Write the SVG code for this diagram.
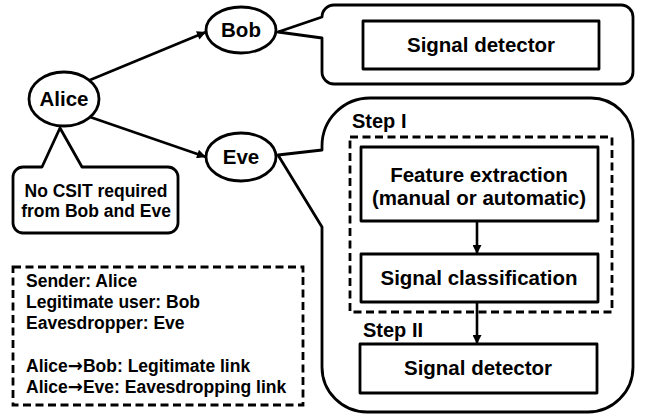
<svg xmlns="http://www.w3.org/2000/svg" width="646" height="420" viewBox="0 0 646 420">
<style>
.s{fill:none;stroke:#000;stroke-width:2.8;stroke-linejoin:round}
.w{fill:#fff;stroke:#000;stroke-width:2.8;stroke-linejoin:round}
.d{fill:none;stroke:#000;stroke-width:2.8;stroke-dasharray:8 4.5}
.t{font-family:"Liberation Sans",Arial,sans-serif;font-weight:bold;fill:#000}
.n{font-size:20.5px;text-anchor:middle}
.m{font-size:17.5px}
.c{text-anchor:middle}
.a{font-family:"DejaVu Sans",sans-serif;font-size:18px}
.l{fill:none;stroke:#000;stroke-width:2.6}
</style>
<defs>
<marker id="ah" viewBox="0 0 10 10" refX="10" refY="5" markerWidth="10" markerHeight="9" markerUnits="userSpaceOnUse" orient="auto">
<path d="M0,0 L10,5 L0,10 Z" fill="#000"/>
</marker>
</defs>
<rect width="646" height="420" fill="#fff"/>

<g id="bob-callout">
<path class="w" d="M322 38 L322 72 A12 12 0 0 0 334 84 L621 84 A12 12 0 0 0 633 72 L633 17 A12 12 0 0 0 621 5 L334 5 A12 12 0 0 0 322 17 L278 32 Z"/>
</g>
<g id="eve-callout">
<path class="w" d="M322 227 L322 367 A45 45 0 0 0 367 412 L588 412 A45 45 0 0 0 633 367 L633 140 A42 42 0 0 0 591 98 L370 98 A48 48 0 0 0 322 146 L322 150 L278 155 Z"/>
</g>
<g id="alice-callout">
<path class="w" d="M42 167 L60 128 L82 167 L168 167 A10 10 0 0 1 178 177 L178 223 A10 10 0 0 1 168 233 L23 233 A10 10 0 0 1 13 223 L13 177 A10 10 0 0 1 23 167 Z"/>
<text class="t m c" x="96" y="197">No CSIT required</text>
<text class="t m c" x="96" y="217">from Bob and Eve</text>
</g>

<g id="alice">
<ellipse class="w" cx="64" cy="99" rx="35" ry="27"/>
<text class="t n" x="64" y="106">Alice</text>
</g>
<g id="bob">
<ellipse class="w" cx="241" cy="30" rx="35" ry="23"/>
<text class="t n" x="241" y="37">Bob</text>
</g>
<g id="eve">
<ellipse class="w" cx="241" cy="157" rx="35" ry="24"/>
<text class="t n" x="241" y="164">Eve</text>
</g>

<g id="bob-detector">
<rect class="s" x="363" y="21" width="236" height="48"/>
<text class="t n" x="481" y="52">Signal detector</text>
</g>

<g id="step1">
<rect class="d" x="350" y="137" width="262" height="175"/>
<text class="t" x="352" y="128" font-size="20">Step I</text>
</g>
<g id="feature">
<rect class="s" x="361" y="147" width="237" height="74"/>
<text class="t n" x="479" y="182">Feature extraction</text>
<text class="t n" x="479" y="205">(manual or automatic)</text>
</g>
<g id="classification">
<rect class="s" x="361" y="254" width="237" height="48"/>
<text class="t n" x="479" y="285">Signal classification</text>
</g>
<g id="step2">
<text class="t" x="363" y="337" font-size="20">Step II</text>
</g>
<g id="eve-detector">
<rect class="s" x="360" y="344" width="237" height="49"/>
<text class="t n" x="478" y="375">Signal detector</text>
</g>

<g id="legend">
<rect class="d" x="13" y="267" width="290" height="138"/>
<text class="t m" x="26" y="287">Sender: Alice</text>
<text class="t m" x="26" y="308">Legitimate user: Bob</text>
<text class="t m" x="26" y="329">Eavesdropper: Eve</text>
<text class="t m" x="26" y="372">Alice<tspan class="a">→</tspan>Bob: Legitimate link</text>
<text class="t m" x="26" y="393">Alice<tspan class="a">→</tspan>Eve: Eavesdropping link</text>
</g>

<g id="connectors">
<line class="l" x1="90" y1="80" x2="206" y2="32" marker-end="url(#ah)"/>
<line class="l" x1="90" y1="117" x2="206" y2="157" marker-end="url(#ah)"/>
<line class="l" x1="477" y1="221" x2="477" y2="254" marker-end="url(#ah)"/>
<line class="l" x1="477" y1="302" x2="477" y2="344" marker-end="url(#ah)"/>
</g>
</svg>
